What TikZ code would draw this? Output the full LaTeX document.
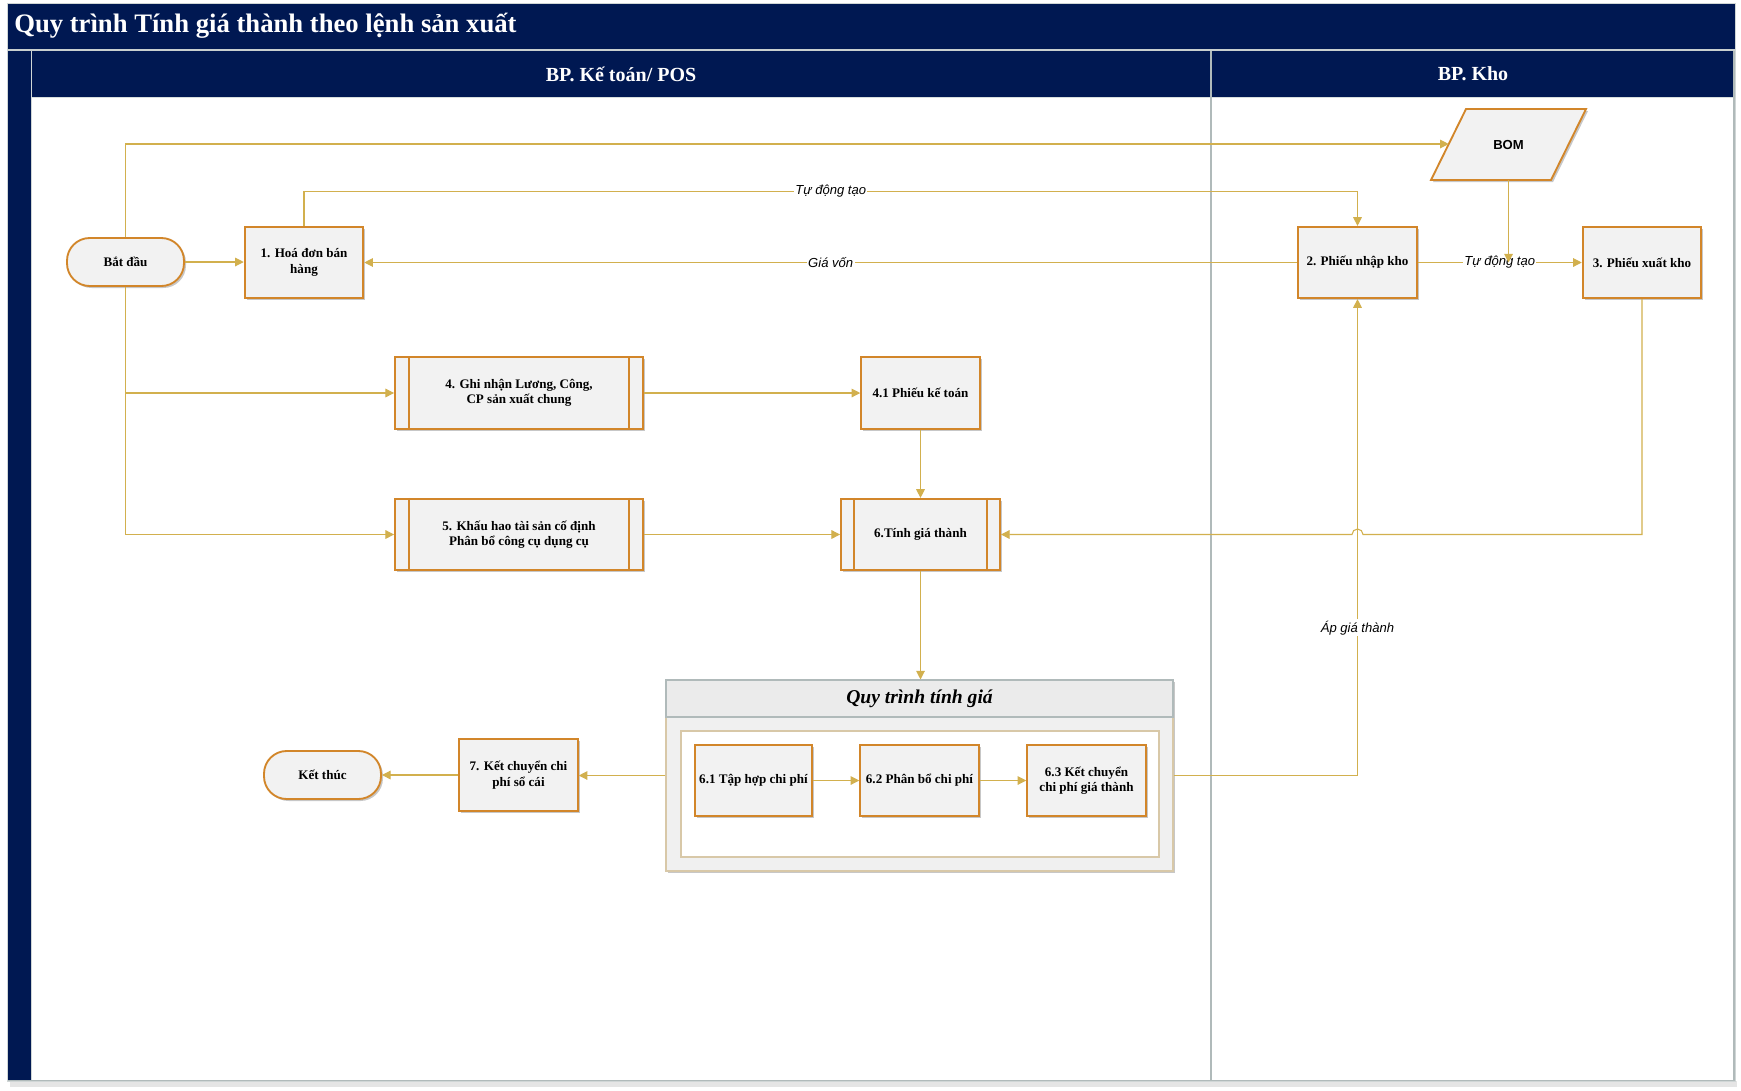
\documentclass[tikz,border=0pt]{standalone}
\usepackage{fontspec}
\setmainfont{Liberation Serif}
\newfontfamily\sansf{Liberation Sans}
\usetikzlibrary{arrows.meta,shadows}
\definecolor{navy}{RGB}{0,24,82}
\definecolor{obord}{RGB}{210,134,42}
\definecolor{nfill}{RGB}{242,242,242}
\definecolor{gline}{RGB}{210,176,78}
\definecolor{lanegrey}{RGB}{176,186,186}
\definecolor{tanc}{RGB}{216,200,168}
\tikzset{
 shd/.style={drop shadow={shadow xshift=1.5pt,shadow yshift=-1.5pt,opacity=0.22,fill=black}},
 procbox/.style={draw=obord,line width=1.4pt,fill=nfill,shd,font=\bfseries\fontsize{9.8}{11.5}\selectfont,align=center,inner sep=2pt},
 term/.style={procbox,rounded corners=17pt,minimum width=87.75pt,minimum height=36pt},
 docbox/.style={procbox,minimum width=89pt,minimum height=53.5pt},
 predef/.style={procbox,minimum height=53.5pt},
 conn/.style={draw=gline,line width=0.8pt,-{Triangle[length=6.5pt,width=6.5pt]}},
 plainline/.style={draw=gline,line width=0.8pt},
 elabel/.style={fill=white,inner sep=1pt,font=\sansf\itshape\fontsize{9.8}{11.5}\selectfont},
 lanetitle/.style={text=white,font=\bfseries\fontsize{15}{17}\selectfont},
}
\begin{document}
\begin{tikzpicture}[x=0.75pt,y=-0.75pt]
\useasboundingbox (0,0) rectangle (1741,1090);
\fill[white] (0,0) rectangle (1741,1090);
% frame
\fill[black!10] (10,1081) rectangle (1737,1087);
\fill[white] (7,3) rectangle (1735,1081);
\fill[navy] (7,3) rectangle (1735,49);
\fill[navy] (7,51) rectangle (1735,97);
\fill[navy] (7,51) rectangle (31,1081);
\draw[lanegrey!70,line width=0.8pt] (7,50) -- (1735,50);
\draw[lanegrey!60,line width=0.6pt] (31,51) -- (31,1081);
\draw[lanegrey!50,line width=1pt] (31,97.5) -- (1735,97.5);
\draw[lanegrey,line width=1.5pt] (1211,51) -- (1211,1081);
\draw[lanegrey,line width=1pt] (1734,51) -- (1734,1081);
\draw[lanegrey,line width=1pt] (7,1081) -- (1735,1081);
\draw[lanegrey!60,line width=0.5pt] (7,3) rectangle (1735,1081);
% titles
\node[anchor=west,inner sep=0pt,text=white,font=\bfseries\fontsize{20}{23}\selectfont] (title) at (14,26) {Quy trình Tính giá thành theo lệnh sản xuất};
\node[lanetitle] (lane1) at (621,74) {BP. Kế toán/ POS};
\node[lanetitle] (lane2) at (1473,74) {BP. Kho};
% BOM
\filldraw[draw=obord,fill=nfill,line width=1.4pt,shd] (1466,109) -- (1586,109) -- (1551,180) -- (1431,180) -- cycle;
\node[font=\sansf\bfseries\fontsize{9.8}{11}\selectfont] (bom) at (1508.5,144.5) {BOM};
\coordinate (bomw) at (1448.7,144);
\coordinate (boms) at (1508.5,180);
% nodes
\node[term] (start) at (125.5,262) {Bắt đầu};
\node[docbox] (n1) at (304,262.5) {1. Hoá đơn bán\\hàng};
\node[docbox] (n2) at (1357.5,262.5) {2. Phiếu nhập kho};
\node[docbox] (n3) at (1642,262.5) {3. Phiếu xuất kho};
\node[predef,minimum width=186pt] (n4) at (519,393) {4. Ghi nhận Lương, Công,\\CP sản xuất chung};
\draw[obord,line width=1.4pt] ([xshift=11pt]n4.north west) -- ([xshift=11pt]n4.south west);
\draw[obord,line width=1.4pt] ([xshift=-11pt]n4.north east) -- ([xshift=-11pt]n4.south east);
\node[docbox] (n41) at (920.5,393) {4.1 Phiếu kế toán};
\node[predef,minimum width=186pt] (n5) at (519,534.5) {5. Khấu hao tài sản cố định\\Phân bổ công cụ dụng cụ};
\draw[obord,line width=1.4pt] ([xshift=11pt]n5.north west) -- ([xshift=11pt]n5.south west);
\draw[obord,line width=1.4pt] ([xshift=-11pt]n5.north east) -- ([xshift=-11pt]n5.south east);
\node[predef,minimum width=119.25pt] (n6) at (920.5,534.5) {6.Tính giá thành};
\draw[obord,line width=1.4pt] ([xshift=10.5pt]n6.north west) -- ([xshift=10.5pt]n6.south west);
\draw[obord,line width=1.4pt] ([xshift=-10.5pt]n6.north east) -- ([xshift=-10.5pt]n6.south east);
% container
\node[draw=tanc,fill=black!6,line width=0.8pt,minimum width=380.25pt,minimum height=143.25pt,inner sep=0pt,shd] (cont) at (919.5,775.5) {};
\filldraw[draw=lanegrey,fill=black!8,line width=0.8pt] (666,680) rectangle (1173,717);
\node[font=\bfseries\itshape\fontsize{14.7}{17}\selectfont] (conttitle) at (919.5,698.5) {Quy trình tính giá};
\filldraw[draw=tanc,fill=white,line width=0.8pt] (681,731) rectangle (1159,857);
\node[docbox,minimum width=88pt] (n61) at (753.5,780.5) {6.1 Tập hợp chi phí};
\node[docbox] (n62) at (919.5,780.5) {6.2 Phân bổ chi phí};
\node[docbox] (n63) at (1086.5,780.5) {6.3 Kết chuyển\\chi phí giá thành};
\node[docbox] (n7) at (518.5,775) {7. Kết chuyển chi\\phí sổ cái};
\node[term] (end) at (322.5,775) {Kết thúc};
% connectors
\coordinate (y191) at (0,191.5);
\draw[conn] (start.east) -- (start.east -| n1.west);
\draw[conn] (start.north) |- (bomw);
\draw[conn] (start.south) |- (n5.west);
\draw[conn] (start.south |- n4.west) -- (n4.west);
\draw[conn] (n1.north) -- (n1.north |- y191) -- node[elabel]{Tự động tạo} (n2.north |- y191) -- (n2.north);
\draw[conn] (n2.west) -- node[elabel]{Giá vốn} (n2.west -| n1.east);
\draw[conn] (n2.east) -- node[elabel]{Tự động tạo} (n2.east -| n3.west);
\draw[conn] (boms) -- (boms |- n2.east);
\draw[conn] (n4.east) -- (n4.east -| n41.west);
\draw[conn] (n41.south) -- (n6.north);
\draw[conn] (n5.east) -- (n5.east -| n6.west);
\draw[conn] (n3.south) -- (n3.south |- n6.east) -- (1363,534.5) arc[start angle=0,end angle=-180,radius=5.5] -- (n6.east);
\draw[conn] (cont.east) -| node[elabel,pos=0.655]{Áp giá thành} (n2.south);
\draw[conn] (n6.south) -- (n6.south |- cont.north);
\draw[conn] (cont.west) -- (cont.west -| n7.east);
\draw[conn] (n7.west) -- (n7.west -| end.east);
\draw[conn] (n61.east) -- (n62.west);
\draw[conn] (n62.east) -- (n63.west);
\end{tikzpicture}
\end{document}
